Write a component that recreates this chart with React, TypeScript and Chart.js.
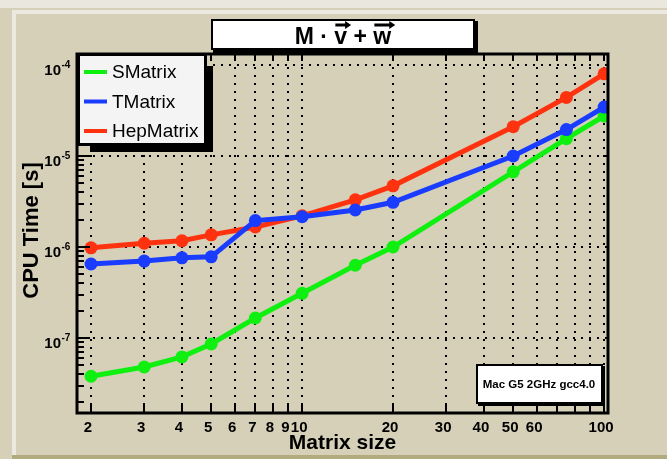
import React, { useEffect, useRef } from "react";
import { Chart, registerables } from "chart.js";

Chart.register(...registerables);

const W = 667;
const H = 459;

const matrixSizes = [2, 3, 4, 5, 7, 10, 15, 20, 50, 75, 100];
const sMatrix = [3.8e-8, 4.8e-8, 6.2e-8, 8.6e-8, 1.66e-7, 3.1e-7, 6.3e-7, 1.0e-6, 6.7e-6, 1.55e-5, 2.75e-5];
const tMatrix = [6.5e-7, 7.0e-7, 7.6e-7, 7.8e-7, 1.95e-6, 2.15e-6, 2.55e-6, 3.1e-6, 1.0e-5, 1.95e-5, 3.45e-5];
const hepMatrix = [9.8e-7, 1.1e-6, 1.17e-6, 1.36e-6, 1.66e-6, 2.2e-6, 3.3e-6, 4.7e-6, 2.1e-5, 4.4e-5, 8.0e-5];

const seriesNames = ["SMatrix", "TMatrix", "HepMatrix"];
const seriesColors = ["#10f010", "#1a3cff", "#ff3210"];

const xTickValues = [2, 3, 4, 5, 6, 7, 8, 9, 10, 20, 30, 40, 50, 60, 70, 80, 90, 100];
const xTickLabels = ["2", "3", "4", "5", "6", "7", "8", "9", "10", "20", "30", "40", "50", "60", "", "", "", "100"];
const yDecadeValues = [1e-7, 1e-6, 1e-5, 1e-4];
const yDecadeExponents = ["-7", "-6", "-5", "-4"];

const titleMain = "M · v + w";
const xTitle = "Matrix size";
const yTitle = "CPU Time [s]";
const infoText = "Mac G5 2GHz gcc4.0";

const FONT = '"Liberation Sans", Arial, Helvetica, sans-serif';

const rootPlugin = {
  id: "rootStyle",
  beforeDraw(chart: any) {
    const ctx = chart.ctx as CanvasRenderingContext2D;
    ctx.save();
    ctx.fillStyle = "#d6d0b9";
    ctx.fillRect(0, 0, W, H);
    ctx.fillStyle = "#e9e7de";
    ctx.fillRect(0, 0, W, 8);
    ctx.fillStyle = "#ece9e0";
    ctx.fillRect(12, 10, W - 12, 4);
    ctx.fillRect(12, 10, 4, H - 10);
    ctx.fillStyle = "#b3aa7d";
    ctx.fillRect(12, 455, W - 12, 4);
    ctx.restore();
  },
  beforeDatasetsDraw(chart: any) {
    const ctx = chart.ctx as CanvasRenderingContext2D;
    const a = chart.chartArea;
    const xs = chart.scales.x;
    const ys = chart.scales.y;
    ctx.save();
    ctx.strokeStyle = "#000";
    ctx.lineWidth = 2;
    ctx.setLineDash([2, 6]);
    ctx.lineCap = "butt";
    for (const v of xTickValues) {
      const px = Math.round(xs.getPixelForValue(v));
      ctx.beginPath();
      ctx.moveTo(px, a.bottom);
      ctx.lineTo(px, a.top);
      ctx.stroke();
    }
    for (const v of yDecadeValues) {
      const py = Math.round(ys.getPixelForValue(v));
      ctx.beginPath();
      ctx.moveTo(a.left, py);
      ctx.lineTo(a.right, py);
      ctx.stroke();
    }
    ctx.restore();
  },
  afterDatasetsDraw(chart: any) {
    const ctx = chart.ctx as CanvasRenderingContext2D;
    const a = chart.chartArea;
    const xs = chart.scales.x;
    const ys = chart.scales.y;
    ctx.save();
    ctx.setLineDash([]);
    ctx.strokeStyle = "#000";
    ctx.fillStyle = "#000";

    // ticks
    ctx.lineWidth = 2;
    for (const v of xTickValues) {
      const px = Math.round(xs.getPixelForValue(v));
      ctx.beginPath();
      ctx.moveTo(px, a.bottom);
      ctx.lineTo(px, a.bottom - 8);
      ctx.moveTo(px, a.top);
      ctx.lineTo(px, a.top + 6);
      ctx.stroke();
    }
    for (let e = -8; e <= -4; e++) {
      for (let m = 1; m <= 9; m++) {
        const v = m * Math.pow(10, e);
        if (v < ys.min || v > ys.max) continue;
        const py = Math.round(ys.getPixelForValue(v));
        const len = m === 1 ? 13 : 7;
        ctx.beginPath();
        ctx.moveTo(a.left, py);
        ctx.lineTo(a.left + len, py);
        ctx.stroke();
      }
    }

    // frame
    ctx.lineWidth = 3;
    ctx.strokeRect(a.left, a.top, a.right - a.left, a.bottom - a.top);

    // x tick labels
    ctx.font = `bold 15px ${FONT}`;
    ctx.textAlign = "center";
    ctx.textBaseline = "alphabetic";
    xTickValues.forEach((v, i) => {
      const lab = xTickLabels[i];
      if (!lab) return;
      const px = xs.getPixelForValue(v);
      ctx.fillText(lab, px - 3, 432);
    });

    // y tick labels with exponents
    yDecadeValues.forEach((v, i) => {
      const py = ys.getPixelForValue(v);
      ctx.font = `bold 15px ${FONT}`;
      ctx.textAlign = "right";
      ctx.fillText("10", 61, py + 10);
      ctx.font = `bold 10px ${FONT}`;
      ctx.textAlign = "left";
      ctx.fillText(yDecadeExponents[i], 61.5, py + 3);
    });

    // axis titles
    ctx.font = `bold 21px ${FONT}`;
    ctx.textAlign = "center";
    ctx.textBaseline = "middle";
    ctx.fillText(xTitle, (a.left + a.right) / 2, 443);
    ctx.font = `bold 22px ${FONT}`;
    ctx.save();
    ctx.translate(32, (a.top + a.bottom) / 2 - 3);
    ctx.rotate(-Math.PI / 2);
    ctx.fillText(yTitle, 0, 0);
    ctx.restore();

    // legend
    ctx.fillStyle = "#000";
    ctx.fillRect(90, 66, 123, 86);
    ctx.fillStyle = "#f4f4f4";
    ctx.fillRect(77, 53, 130, 93);
    ctx.lineWidth = 3;
    ctx.strokeStyle = "#000";
    ctx.strokeRect(78.5, 54.5, 127, 90);
    ctx.font = `19px ${FONT}`;
    ctx.textAlign = "left";
    ctx.textBaseline = "middle";
    seriesNames.forEach((name, i) => {
      const y = 72 + i * 29.5;
      ctx.strokeStyle = seriesColors[i];
      ctx.lineWidth = 4;
      ctx.beginPath();
      ctx.moveTo(84, y);
      ctx.lineTo(107, y);
      ctx.stroke();
      ctx.fillStyle = "#000";
      ctx.fillText(name, 112, y + 1);
    });

    // title box
    ctx.fillStyle = "#000";
    ctx.fillRect(213, 21, 265, 32);
    ctx.fillStyle = "#fff";
    ctx.fillRect(211, 19, 264, 31);
    ctx.lineWidth = 2;
    ctx.strokeStyle = "#000";
    ctx.strokeRect(212, 20, 262, 29);
    ctx.fillStyle = "#000";
    ctx.font = `bold 23px ${FONT}`;
    ctx.textAlign = "left";
    ctx.textBaseline = "alphabetic";
    const tw = ctx.measureText(titleMain).width;
    const tx = 343 - tw / 2;
    const tBase = 44;
    ctx.fillText(titleMain, tx, tBase);
    const drawArrow = (prefix: string, letter: string) => {
      const x0 = tx + ctx.measureText(prefix).width;
      const lw = ctx.measureText(letter).width;
      const y = 25;
      const x1 = x0 + 1;
      const x2 = x0 + lw + 3;
      ctx.lineWidth = 3;
      ctx.strokeStyle = "#000";
      ctx.beginPath();
      ctx.moveTo(x1, y);
      ctx.lineTo(x2 - 3, y);
      ctx.stroke();
      ctx.beginPath();
      ctx.moveTo(x2 + 1, y);
      ctx.lineTo(x2 - 5, y - 4);
      ctx.lineTo(x2 - 5, y + 4);
      ctx.closePath();
      ctx.fill();
    };
    drawArrow("M · ", "v");
    drawArrow("M · v + ", "w");

    // info text box
    ctx.fillStyle = "#000";
    ctx.fillRect(478, 366, 127, 40);
    ctx.fillStyle = "#fff";
    ctx.fillRect(476, 364, 127, 40);
    ctx.lineWidth = 2;
    ctx.strokeRect(477, 365, 125, 38);
    ctx.fillStyle = "#000";
    ctx.font = `bold 11.5px ${FONT}`;
    ctx.textAlign = "center";
    ctx.textBaseline = "middle";
    ctx.fillText(infoText, 539, 385);

    ctx.restore();
  },
};

export default function App() {
  const ref = useRef<HTMLCanvasElement | null>(null);
  useEffect(() => {
    if (!ref.current) return;
    const mk = (vals: number[]) => matrixSizes.map((x, i) => ({ x, y: vals[i] }));
    const allSeries = [sMatrix, tMatrix, hepMatrix];
    const orders = [1, 0, 2];
    const chart = new Chart(ref.current, {
      type: "line",
      data: {
        datasets: allSeries.map((vals, i) => ({
          label: seriesNames[i],
          data: mk(vals),
          borderColor: seriesColors[i],
          backgroundColor: seriesColors[i],
          pointBackgroundColor: seriesColors[i],
          pointBorderWidth: 0,
          pointRadius: 6.5,
          borderWidth: 5,
          tension: 0,
          fill: false,
          order: orders[i],
        })),
      },
      options: {
        animation: false,
        responsive: false,
        maintainAspectRatio: false,
        devicePixelRatio: 1,
        layout: { padding: { left: 77, top: 54, right: W - 608, bottom: H - 413 } },
        plugins: { legend: { display: false }, title: { display: false }, tooltip: { enabled: false } },
        scales: {
          x: { type: "logarithmic", min: 1.797, max: 103, display: false },
          y: { type: "logarithmic", min: 1.5e-8, max: 1.32e-4, display: false },
        },
      },
      plugins: [rootPlugin],
    } as any);
    return () => chart.destroy();
  }, []);
  return (
    <div style={{ position: "absolute", left: 0, top: 0, width: W, height: H }}>
      <canvas ref={ref} width={W} height={H} style={{ display: "block", width: W, height: H }} />
    </div>
  );
}
